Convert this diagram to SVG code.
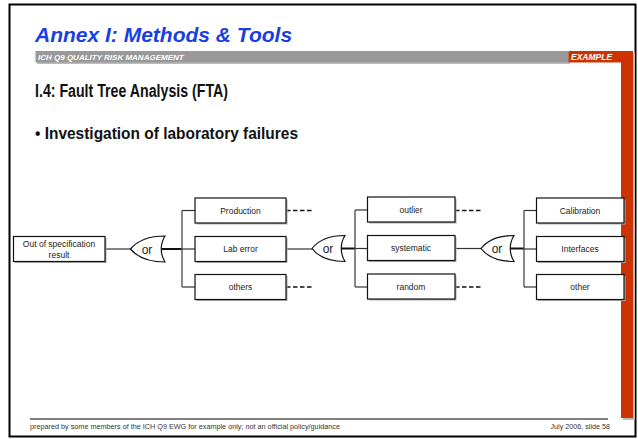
<svg xmlns="http://www.w3.org/2000/svg" width="638" height="439" viewBox="0 0 638 439">
<defs>
<style>
.lbl{font-family:"Liberation Sans",Arial,sans-serif;font-size:8.5px;fill:#222;text-anchor:middle}
.box{fill:#fff;stroke:#111;stroke-width:1.2}
.shd{fill:#aaa}
.gate{fill:#fff;stroke:#111;stroke-width:1.2}
.ort{font-family:"Liberation Sans",Arial,sans-serif;font-size:12px;fill:#222;text-anchor:middle}
.ln{stroke:#333;stroke-width:1.2;fill:none}
.vl{stroke:#555;stroke-width:1.4;fill:none}
.thk{stroke:#111;stroke-width:2;fill:none}
.dsh{stroke:#111;stroke-width:1.6;stroke-dasharray:4.5 2.5;fill:none}
.ft{font-family:"Liberation Sans",Arial,sans-serif;font-size:7.2px;fill:#333}
</style>
</defs>
<rect x="0" y="0" width="638" height="439" fill="#fff"/>
<rect x="9.5" y="4.5" width="626" height="432" fill="none" stroke="#000" stroke-width="2"/>
<g id="header">
<text x="35" y="42" font-family="Liberation Sans,Arial,sans-serif" font-size="21" font-weight="bold" font-style="italic" fill="#1a3fe0">Annex I: Methods &amp; Tools</text>
<rect x="37" y="52.5" width="533" height="11.5" fill="#bbb"/>
<rect x="35.5" y="51" width="533" height="11.5" fill="#999"/>
<text x="38" y="60" font-family="Liberation Sans,Arial,sans-serif" font-size="8" font-weight="bold" font-style="italic" fill="#fff">ICH Q9 QUALITY RISK MANAGEMENT</text>
<rect x="623" y="53" width="12" height="367" fill="#bbb"/>
<rect x="568.5" y="51" width="64.5" height="11.5" fill="#cc3300"/>
<rect x="621" y="51" width="12" height="367" fill="#cc3300"/>
<text x="571" y="60" font-family="Liberation Sans,Arial,sans-serif" font-size="8.5" font-weight="bold" font-style="italic" fill="#fff">EXAMPLE</text>
<text x="35" y="97" font-family="Liberation Sans,Arial,sans-serif" font-size="18" font-weight="bold" fill="#111" textLength="193" lengthAdjust="spacingAndGlyphs">I.4: Fault Tree Analysis (FTA)</text>
<text x="35" y="139" font-family="Liberation Sans,Arial,sans-serif" font-size="16" font-weight="bold" fill="#111" textLength="263" lengthAdjust="spacingAndGlyphs">• Investigation of laboratory failures</text>
</g>
<g id="footer">
<line x1="30" y1="419" x2="608" y2="419" stroke="#000" stroke-width="1.2"/>
<text class="ft" x="30" y="429" textLength="310" lengthAdjust="spacingAndGlyphs">prepared by some members of the ICH Q9 EWG for example only; not an official policy/guidance</text>
<text class="ft" x="610" y="429" text-anchor="end">July 2006, slide 58</text>
</g>
<g id="connectors">
<line class="ln" x1="105" y1="249" x2="131" y2="249"/>
<line class="thk" x1="161" y1="249" x2="182" y2="249"/>
<line class="vl" x1="182" y1="210.5" x2="182" y2="287"/>
<line class="ln" x1="182" y1="210.5" x2="195" y2="210.5"/>
<line class="ln" x1="182" y1="249" x2="195" y2="249"/>
<line class="ln" x1="182" y1="287" x2="195" y2="287"/>
<line class="dsh" x1="286" y1="210.5" x2="313" y2="210.5"/>
<line class="dsh" x1="286" y1="287" x2="313" y2="287"/>
<line class="ln" x1="286" y1="249" x2="313" y2="249"/>
<line class="thk" x1="341" y1="248.5" x2="355" y2="248.5"/>
<line class="vl" x1="355" y1="210" x2="355" y2="287"/>
<line class="ln" x1="355" y1="210" x2="367.5" y2="210"/>
<line class="ln" x1="355" y1="248.5" x2="367.5" y2="248.5"/>
<line class="ln" x1="355" y1="287" x2="367.5" y2="287"/>
<line class="dsh" x1="455" y1="210.5" x2="482" y2="210.5"/>
<line class="dsh" x1="455" y1="287" x2="482" y2="287"/>
<line class="ln" x1="455" y1="248.5" x2="482" y2="248.5"/>
<line class="thk" x1="510" y1="248.5" x2="524" y2="248.5"/>
<line class="vl" x1="524" y1="210.5" x2="524" y2="287"/>
<line class="ln" x1="524" y1="210.5" x2="536.5" y2="210.5"/>
<line class="ln" x1="524" y1="249" x2="536.5" y2="249"/>
<line class="ln" x1="524" y1="287" x2="536.5" y2="287"/>
</g>
<g id="n-oos">
<rect class="shd" x="15" y="238" width="91.5" height="25"/>
<rect class="box" x="13.5" y="236.5" width="91.5" height="25"/>
<text class="lbl" x="59" y="246.5">Out of specification</text>
<text class="lbl" x="59" y="257.5">result</text>
</g>
<g id="g-or1">
<path class="gate" d="M165,236 C150,236 138,240 130.5,249 C138,258 150,262 165,262 C160,254 160,244 165,236 Z"/>
<text class="ort" x="147" y="253.5">or</text>
</g>
<g id="n-production">
<rect class="shd" x="196.5" y="199.5" width="91" height="25"/>
<rect class="box" x="195" y="198" width="91" height="25"/>
<text class="lbl" x="240.5" y="213.5">Production</text>
</g>
<g id="n-laberror">
<rect class="shd" x="196.5" y="238" width="91" height="25"/>
<rect class="box" x="195" y="236.5" width="91" height="25"/>
<text class="lbl" x="240.5" y="252">Lab error</text>
</g>
<g id="n-others">
<rect class="shd" x="196.5" y="276" width="91" height="25"/>
<rect class="box" x="195" y="274.5" width="91" height="25"/>
<text class="lbl" x="240.5" y="290">others</text>
</g>
<g id="g-or2">
<path class="gate" d="M345,235.5 C330,235.5 319,239.5 312,248.5 C319,257.5 330,261.5 345,261.5 C340,253.5 340,243.5 345,235.5 Z"/>
<text class="ort" x="328" y="253">or</text>
</g>
<g id="n-outlier">
<rect class="shd" x="369" y="198.5" width="87.5" height="25"/>
<rect class="box" x="367.5" y="197" width="87.5" height="25"/>
<text class="lbl" x="411" y="212.5">outlier</text>
</g>
<g id="n-systematic">
<rect class="shd" x="369" y="237" width="87.5" height="25"/>
<rect class="box" x="367.5" y="235.5" width="87.5" height="25"/>
<text class="lbl" x="411" y="251">systematic</text>
</g>
<g id="n-random">
<rect class="shd" x="369" y="275.5" width="87.5" height="25"/>
<rect class="box" x="367.5" y="274" width="87.5" height="25"/>
<text class="lbl" x="411" y="289.5">random</text>
</g>
<g id="g-or3">
<path class="gate" d="M514,235.5 C499,235.5 488,239.5 481,248.5 C488,257.5 499,261.5 514,261.5 C509,253.5 509,243.5 514,235.5 Z"/>
<text class="ort" x="497" y="253">or</text>
</g>
<g id="n-calibration">
<rect class="shd" x="538" y="199.5" width="87.5" height="25"/>
<rect class="box" x="536.5" y="198" width="87.5" height="25"/>
<text class="lbl" x="580" y="213.5">Calibration</text>
</g>
<g id="n-interfaces">
<rect class="shd" x="538" y="238" width="87.5" height="25"/>
<rect class="box" x="536.5" y="236.5" width="87.5" height="25"/>
<text class="lbl" x="580" y="252">Interfaces</text>
</g>
<g id="n-other">
<rect class="shd" x="538" y="276" width="87.5" height="25"/>
<rect class="box" x="536.5" y="274.5" width="87.5" height="25"/>
<text class="lbl" x="580" y="290">other</text>
</g>
</svg>
